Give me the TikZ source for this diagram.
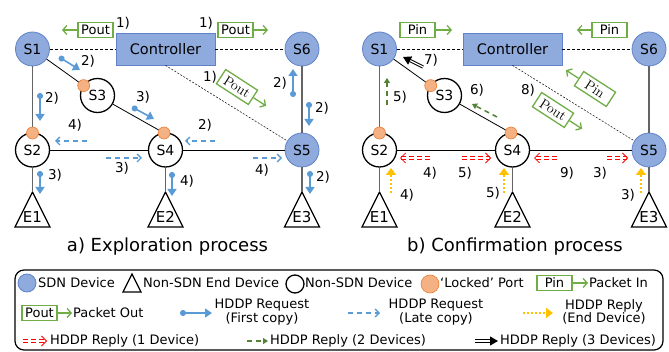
\documentclass[tikz,border=0pt]{standalone}
\usepackage{fontspec}
\setsansfont{DejaVu Sans}
\usetikzlibrary{arrows.meta,calc}
\definecolor{sdnfill}{RGB}{143,170,220}
\definecolor{sdndraw}{RGB}{95,130,200}
\definecolor{portfill}{RGB}{244,177,131}
\definecolor{portdraw}{RGB}{237,125,49}
\definecolor{pgreen}{RGB}{112,173,71}
\definecolor{dgreen}{RGB}{84,130,53}
\definecolor{hblue}{RGB}{91,155,213}
\definecolor{hyellow}{RGB}{255,192,0}
\definecolor{lgray}{RGB}{100,100,100}
\tikzset{
 sdn/.style={circle,minimum size=34pt,inner sep=0pt,fill=sdnfill,draw=sdndraw,line width=0.8pt,font=\sffamily\fontsize{14}{14}\selectfont},
 nsdn/.style={circle,minimum size=34pt,inner sep=0pt,fill=white,draw=black,line width=1.3pt,font=\sffamily\fontsize{14}{14}\selectfont},
 port/.style={circle,minimum size=12pt,inner sep=0pt,fill=portfill,draw=portdraw,line width=0.6pt},
 ctrl/.style={rectangle,minimum width=99pt,minimum height=32pt,inner sep=0pt,fill=sdnfill,draw=sdndraw,line width=0.8pt,font=\sffamily\fontsize{14.5}{15}\selectfont},
 pbox/.style={rectangle,draw=pgreen,line width=1.3pt,fill=white,minimum width=35pt,minimum height=15pt,inner sep=0pt,font=\sffamily\fontsize{13}{13}\selectfont},
 pboxr/.style={pbox,minimum width=38pt,minimum height=17pt,font=\rmfamily\fontsize{14}{14}\selectfont},
 garrow/.style={draw=pgreen,line width=1.3pt,-{Straight Barb[length=4pt,width=9pt]}},
 link/.style={draw=black,line width=0.8pt},
 vlink/.style={draw=lgray,line width=1.2pt},
 ctlink/.style={draw=black,line width=0.6pt,dash pattern=on 3pt off 2pt},
 ctdiag/.style={draw=black,line width=0.5pt,dash pattern=on 2pt off 1.5pt},
 tri/.style={draw=black,line width=1.3pt,line join=miter},
 reqf/.style={draw=hblue,line width=1.6pt,{Circle[length=6pt,width=6pt]}-{Triangle[length=7pt,width=9pt]}},
 reql/.style={draw=hblue,line width=1.3pt,dash pattern=on 5pt off 4pt,-{Straight Barb[length=4pt,width=8pt]}},
 rep1/.style={draw=red,line width=0.8pt,double=white,double distance=1.5pt,dash pattern=on 5pt off 3pt,-{Straight Barb[length=5pt,width=10pt]}},
 rep2/.style={draw=dgreen,line width=1.5pt,dash pattern=on 5pt off 4pt,-{Triangle[length=5pt,width=6pt]}},
 rep3/.style={draw=black,line width=1pt,double=white,double distance=1.3pt,-{Triangle[length=8pt,width=9pt]}},
 rep0/.style={draw=hyellow,line width=2pt,dash pattern=on 2pt off 2pt,-{Triangle[length=7pt,width=10pt]}},
 lab/.style={inner sep=0pt,font=\sffamily\fontsize{13.5}{14}\selectfont},
 etxt/.style={inner sep=0pt,font=\sffamily\fontsize{15}{15}\selectfont},
 legtxt/.style={inner sep=0pt,anchor=west,font=\sffamily\fontsize{13}{13}\selectfont},
 legtwo/.style={inner sep=0pt,align=center,font=\sffamily\fontsize{13}{11.5}\selectfont},
 captxt/.style={inner sep=0pt,font=\sffamily\fontsize{18}{18}\selectfont}
}
\newcommand{\panelbase}[1]{%
 \node[sdn] (#1S1) at (32.5,49) {S1};
 \node[ctrl] (#1C) at (165.5,49) {Controller};
 \node[sdn] (#1S6) at (302,49) {S6};
 \node[nsdn] (#1S3) at (97.5,95.5) {S3};
 \node[nsdn] (#1S2) at (32.5,150) {S2};
 \node[nsdn] (#1S4) at (165.5,150) {S4};
 \node[sdn] (#1S5) at (302,150) {S5};
 \node[port] (#1P3) at ($(#1S3)!17pt!(#1S1)$) {};
 \node[port] (#1P2) at ($(#1S2)+(0,-17)$) {};
 \node[port] (#1P4) at ($(#1S4)+(-1.5,-17)$) {};
 \coordinate (#1E1) at (32.5,192);
 \coordinate (#1E2) at (165.5,192);
 \coordinate (#1E3) at (302,192);
 \draw[tri] (#1E1) -- ++(17.5,35) -- ++(-35,0) -- cycle;
 \draw[tri] (#1E2) -- ++(17.5,35) -- ++(-35,0) -- cycle;
 \draw[tri] (#1E3) -- ++(17.5,35) -- ++(-35,0) -- cycle;
 \node[etxt] (#1E1t) at (32.5,217) {E1};
 \node[etxt] (#1E2t) at (165.5,217) {E2};
 \node[etxt] (#1E3t) at (302,217) {E3};
 \draw[ctlink] (#1S1) -- (#1C);
 \draw[ctlink] (#1C) -- (#1S6);
 \draw[ctdiag] (#1C.south) -- (#1S5);
 \draw[vlink] (#1S1) -- (#1P2);
 \draw[vlink] (#1S6) -- (#1S5);
 \draw[link] (#1S1) -- (#1P3);
 \draw[link] (#1S3) -- (#1P4);
 \draw[link] (#1S2) -- (#1S4);
 \draw[link] (#1S4) -- (#1S5);
 \draw[vlink] (#1S2) -- (#1E1);
 \draw[vlink] (#1S4) -- (#1E2);
 \draw[vlink] (#1S5) -- (#1E3);
}
\begin{document}
\begin{tikzpicture}[x=1pt,y=-1pt]
\useasboundingbox (0,0) rectangle (669,352);
% ---------- panel a ----------
\panelbase{a}
\node[pbox] (aPo1) at (95.5,30) {Pout};
\coordinate (aPo1e) at (62,30);
\draw[garrow] (aPo1) -- (aPo1e);
\node[pbox] (aPo2) at (235.5,30) {Pout};
\coordinate (aPo2e) at (268,30);
\draw[garrow] (aPo2) -- (aPo2e);
\node[pboxr,rotate=-33] (aPo3) at (237,87) {Pout};
\draw[garrow] (aPo3.east) -- ++(-33:15pt);
\node[lab] (al1) at (123,23) {1)};
\node[lab] (al2) at (206,23) {1)};
\node[lab] (al3) at (210,77) {1)};
\draw[reqf] (59,57) -- (80,70);   \node[lab] (al4) at (88,61) {2)};
\draw[reqf] (40,93) -- (40,121);  \node[lab] (al5) at (52,98) {2)};
\draw[reqf] (132,107) -- (154,119); \node[lab] (al6) at (143,97) {3)};
\draw[reqf] (293,97) -- (293,69); \node[lab] (al7) at (280,83) {2)};
\draw[reqf] (309,102) -- (309,126); \node[lab] (al8) at (322,108) {2)};
\draw[reqf] (40,171) -- (40,194); \node[lab] (al9) at (55,175) {3)};
\draw[reqf] (172,172) -- (172,196); \node[lab] (al10) at (187,181) {4)};
\draw[reqf] (310,171) -- (310,194); \node[lab] (al11) at (323,177) {2)};
\draw[reql] (87,141) -- (55,141); \node[lab] (al12) at (75,125) {4)};
\draw[reql] (215,141) -- (185,141); \node[lab] (al13) at (205,125) {2)};
\draw[reql] (106,158) -- (142,158); \node[lab] (al14) at (122,168) {3)};
\draw[reql] (253,158) -- (282,158); \node[lab] (al15) at (262,170) {4)};
\node[captxt] (acap) at (167.5,247) {a) Exploration process};
% ---------- panel b ----------
\begin{scope}[xshift=347pt]
\panelbase{b}
\end{scope}
\node[pbox] (bPi1) at (417.5,30) {Pin};
\coordinate (bPi1e) at (452,30);
\draw[garrow] (bPi1) -- (bPi1e);
\node[pbox] (bPi2) at (609.5,30) {Pin};
\coordinate (bPi2e) at (577,30);
\draw[garrow] (bPi2) -- (bPi2e);
\node[pboxr,rotate=-33] (bPi3) at (595,89) {Pin};
\draw[garrow] (bPi3.west) -- ++(147:15pt);
\node[pboxr,rotate=-33] (bPo3) at (553,110) {Pout};
\draw[garrow] (bPo3.east) -- ++(-33:15pt);
\node[lab] (bl8) at (528,90) {8)};
\draw[rep3] (423,67) -- (403,57); \node[lab] (bl7) at (431,60) {7)};
\draw[rep2] (387,105) -- (387,78); \node[lab] (bl5) at (400,97) {5)};
\draw[rep2] (497,117) -- (472,104); \node[lab] (bl6) at (477,90) {6)};
\draw[rep1] (430,158) -- (400,158); \node[lab] (bl4) at (430,173) {4)};
\draw[rep1] (462,158) -- (491,158); \node[lab] (bl5b) at (465,173) {5)};
\draw[rep1] (557,158) -- (534,158); \node[lab] (bl9) at (567,173) {9)};
\draw[rep1] (607,158) -- (628,158); \node[lab] (bl3) at (600,173) {3)};
\draw[rep0] (391,193) -- (391,168); \node[lab] (bl4b) at (407,195) {4)};
\draw[rep0] (504,193) -- (504,168); \node[lab] (bl5c) at (493,193) {5)};
\draw[rep0] (641,193) -- (641,168); \node[lab] (bl3b) at (628,195) {3)};
\node[captxt] (bcap) at (515,247) {b) Confirmation process};
% ---------- legend ----------
\node[draw=black,line width=1.2pt,rounded corners=9pt,minimum width=648pt,minimum height=80pt,inner sep=0pt] (legend) at (339,310) {};
\node[sdn,minimum size=18pt] (lg1) at (27,283) {};
\node[legtxt] (lg1t) at (38,283) {SDN Device};
\draw[tri] (132,274) -- (141,292) -- (123,292) -- cycle;
\node[legtxt] (lg2t) at (143,283) {Non-SDN End Device};
\node[nsdn,minimum size=18pt] (lg3) at (295,284) {};
\node[legtxt] (lg3t) at (305,283) {Non-SDN Device};
\node[port,minimum size=18pt] (lg4) at (430,284) {};
\node[legtxt] (lg4t) at (440,283) {‘Locked’ Port};
\node[pbox] (lg5) at (554.5,283) {Pin};
\coordinate (lg5e) at (588,283);
\draw[garrow] (lg5) -- (lg5e);
\node[legtxt] (lg5t) at (589,283) {Packet In};
\node[pbox] (lg6) at (39.5,313) {Pout};
\coordinate (lg6e) at (72,313);
\draw[garrow] (lg6) -- (lg6e);
\node[legtxt] (lg6t) at (73,313) {Packet Out};
\draw[reqf] (180,313) -- (212,313);
\node[legtwo] (lg7t) at (262,312) {HDDP Request\\(First copy)};
\draw[reql] (348,313) -- (380,313);
\node[legtwo] (lg8t) at (436,312) {HDDP Request\\(Late copy)};
\draw[rep0] (523,313) -- (553,313);
\node[legtwo] (lg9t) at (604,312) {HDDP Reply\\(End Device)};
\draw[rep1] (23,341) -- (47,341);
\node[legtxt] (lg10t) at (50,341) {HDDP Reply (1 Device)};
\draw[rep2] (247,341) -- (268,341);
\node[legtxt] (lg11t) at (270,341) {HDDP Reply (2 Devices)};
\draw[rep3] (475,341) -- (498,341);
\node[legtxt] (lg12t) at (500,341) {HDDP Reply (3 Devices)};
\end{tikzpicture}
\end{document}
